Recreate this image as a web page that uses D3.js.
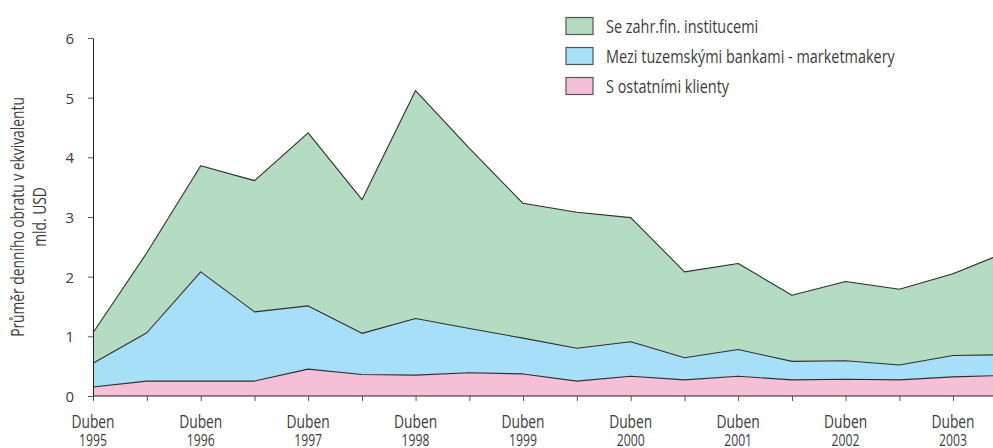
<!DOCTYPE html>
<html>
  <head>
    <title>obrat devizoveho trhu</title>
    <meta charset="utf-8" />
    <script src="https://d3js.org/d3.v7.min.js"></script>
    <style>
      body {
        margin: 0;
        background: #ffffff;
      }
      text {
        font-family: "Open Sans", sans-serif;
        font-weight: 400;
        fill: #3c3c3c;
      }
    </style>
  </head>

  <body>
    <script>
      // Data (mld. USD), half-yearly, April / October
      const periods = [
        "1995-04", "1995-10", "1996-04", "1996-10", "1997-04", "1997-10",
        "1998-04", "1998-10", "1999-04", "1999-10", "2000-04", "2000-10",
        "2001-04", "2001-10", "2002-04", "2002-10", "2003-04", "2003-08-15",
      ];
      const ostatniKlienti = [
        0.15, 0.25, 0.25, 0.25, 0.45, 0.36, 0.35, 0.39, 0.37, 0.25, 0.33, 0.27,
        0.33, 0.27, 0.28, 0.27, 0.32, 0.34,
      ];
      const tuzemskeBanky = [
        0.4, 0.81, 1.83, 1.16, 1.06, 0.69, 0.95, 0.74, 0.6, 0.55, 0.58, 0.37,
        0.45, 0.31, 0.31, 0.25, 0.36, 0.35,
      ];
      const zahrInstituce = [
        0.51, 1.34, 1.78, 2.2, 2.9, 2.24, 3.82, 3.02, 2.26, 2.28, 2.08, 1.44,
        1.44, 1.11, 1.33, 1.27, 1.37, 1.63,
      ];
      const seriesNames = [
        "S ostatními klienty",
        "Mezi tuzemskými bankami - marketmakery",
        "Se zahr.fin. institucemi",
      ];
      const seriesColors = ["#f6bfd8", "#a8dff8", "#b3dcc2"];
      const yTicks = [0, 1, 2, 3, 4, 5, 6];
      const tickMonths = periods.slice(0, 17); // tick marks on every half-year
      const yTitle = ["Průměr denního obratu v ekvivalentu", "mld. USD"];

      const width = 993;
      const height = 448;
      const margin = { top: 38, right: 0, bottom: 52, left: 93 };

      const svg = d3
        .select("body")
        .append("svg")
        .attr("width", width)
        .attr("height", height);

      const parse = d3.timeParse("%Y-%m");
      const parseFull = d3.timeParse("%Y-%m-%d");
      const dates = periods.map((p) => parse(p) || parseFull(p));

      // the original font is a narrow one, so squeeze text horizontally
      function squeeze(sel, x, y, s) {
        sel
          .attr("x", 0)
          .attr("y", 0)
          .attr("transform", (d, i) => `translate(${typeof x === "function" ? x(d, i) : x},${y}) scale(${s},1)`);
      }

      // build rows for the stack
      const keys = ["klienti", "banky", "zahr"];
      const rows = dates.map((d, i) => ({
        date: d,
        klienti: ostatniKlienti[i],
        banky: tuzemskeBanky[i],
        zahr: zahrInstituce[i],
      }));
      const stacked = d3.stack().keys(keys)(rows);

      const x = d3
        .scaleTime()
        .domain(d3.extent(dates))
        .range([margin.left, width - margin.right]);

      const y = d3
        .scaleLinear()
        .domain([0, 6])
        .range([height - margin.bottom, margin.top]);

      const area = d3
        .area()
        .x((d) => x(d.data.date))
        .y0((d) => y(d[0]))
        .y1((d) => y(d[1]));

      const topLine = d3
        .line()
        .x((d) => x(d.data.date))
        .y((d) => y(d[1]));

      // areas
      svg
        .selectAll("path.area")
        .data(stacked)
        .enter()
        .append("path")
        .attr("class", "area")
        .attr("fill", (d, i) => seriesColors[i])
        .attr("d", area);

      // outlines on top of each layer
      svg
        .selectAll("path.edge")
        .data(stacked)
        .enter()
        .append("path")
        .attr("class", "edge")
        .attr("fill", "none")
        .attr("stroke", "#2e2e2e")
        .attr("stroke-width", 1.1)
        .attr("stroke-linejoin", "round")
        .attr("d", topLine);

      // y axis
      const yAxis = svg
        .append("g")
        .attr("transform", `translate(${margin.left},0)`)
        .call(
          d3
            .axisLeft(y)
            .tickValues(yTicks)
            .tickFormat(d3.format("d"))
            .tickSize(5)
            .tickPadding(14)
            .tickSizeOuter(0)
        );
      yAxis.attr("font-family", null).attr("font-size", null);
      yAxis.select(".domain").attr("stroke", "#222");
      yAxis.selectAll(".tick line").attr("stroke", "#555");
      yAxis
        .selectAll(".tick text")
        .attr("font-size", "15px")
        .attr("fill", null)
        .attr("dy", "0.36em");

      // x axis
      const xAxis = svg
        .append("g")
        .attr("transform", `translate(0,${height - margin.bottom})`)
        .call(
          d3
            .axisBottom(x)
            .tickValues(tickMonths.map((p) => parse(p)))
            .tickSize(5)
            .tickSizeOuter(0)
            .tickFormat("")
        );
      xAxis
        .select(".domain")
        .attr("stroke", "#222")
        .attr("d", `M${margin.left},0H${width}`);
      xAxis.selectAll(".tick line").attr("stroke", "#555");

      // two-line labels only under April
      const aprilTicks = tickMonths.filter((p) => p.endsWith("-04"));
      const xLabels = svg.append("g");
      xLabels
        .selectAll("text.month")
        .data(aprilTicks)
        .enter()
        .append("text")
        .attr("class", "month")
        .attr("text-anchor", "middle")
        .attr("font-size", "17.5px")
        .text("Duben")
        .call(squeeze, (p) => x(parse(p)), 427.5, 0.79);
      xLabels
        .selectAll("text.year")
        .data(aprilTicks)
        .enter()
        .append("text")
        .attr("class", "year")
        .attr("text-anchor", "middle")
        .attr("font-size", "16.5px")
        .text((p) => p.slice(0, 4))
        .call(squeeze, (p) => x(parse(p)), 445.5, 0.74);

      // y axis title
      const cy = (margin.top + height - margin.bottom) / 2;
      svg
        .selectAll("text.ytitle")
        .data(yTitle)
        .enter()
        .append("text")
        .attr("class", "ytitle")
        .attr("text-anchor", "middle")
        .attr("font-size", "17.5px")
        .attr("transform", (d, i) => `translate(${24 + i * 22},${cy}) rotate(-90) scale(0.79,1)`)
        .text((d) => d);

      // legend (top layer first)
      const legendOrder = [2, 1, 0];
      const legend = svg
        .selectAll("g.legend")
        .data(legendOrder)
        .enter()
        .append("g")
        .attr("class", "legend")
        .attr("transform", (d, i) => `translate(566,${17.5 + i * 30})`);
      legend
        .append("rect")
        .attr("width", 27)
        .attr("height", 17)
        .attr("fill", (d) => seriesColors[d])
        .attr("stroke", "#555")
        .attr("stroke-width", 1.2);
      legend
        .append("text")
        .attr("font-size", "17.5px")
        .text((d) => seriesNames[d])
        .call(squeeze, 40, 15.8, 0.826);
    </script>
  </body>
</html>
